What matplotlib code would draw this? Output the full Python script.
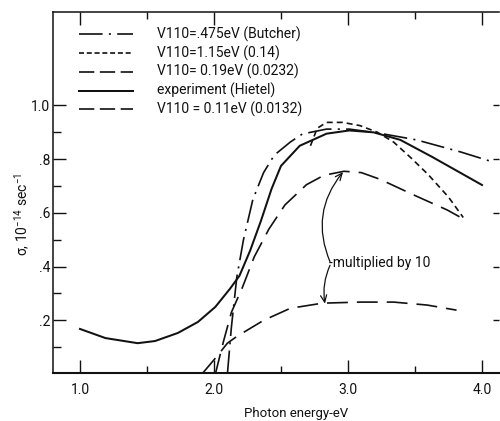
import matplotlib
matplotlib.use('Agg')
import matplotlib.pyplot as plt

plt.rcParams['font.family'] = ['Roboto', 'DejaVu Sans']
plt.rcParams['mathtext.fontset'] = 'custom'
plt.rcParams['mathtext.rm'] = 'Roboto'
plt.rcParams['mathtext.it'] = 'Roboto'
plt.rcParams['lines.scale_dashes'] = False

# ---------------- data ----------------
exp_x = [1.00, 1.19, 1.43, 1.56, 1.73, 1.88, 2.01, 2.12, 2.19, 2.27, 2.35, 2.43,
         2.50, 2.64, 2.84, 3.01, 3.19, 3.39, 3.63, 4.00]
exp_y = [0.168, 0.134, 0.115, 0.123, 0.153, 0.194, 0.250, 0.318, 0.366, 0.46, 0.57,
         0.69, 0.775, 0.850, 0.895, 0.907, 0.900, 0.872, 0.808, 0.704]

butcher_x = [2.10, 2.13, 2.17, 2.22, 2.29, 2.37, 2.45, 2.57, 2.66, 2.84, 3.01, 3.22,
             3.51, 3.84, 4.06]
butcher_y = [0.0, 0.175, 0.36, 0.50, 0.65, 0.75, 0.815, 0.864, 0.894, 0.912, 0.912,
             0.898, 0.872, 0.827, 0.793]

v115_x = [2.72, 2.77, 2.84, 2.96, 3.09, 3.22, 3.34, 3.47, 3.60, 3.75, 3.86]
v115_y = [0.85, 0.915, 0.937, 0.937, 0.925, 0.900, 0.864, 0.805, 0.742, 0.659, 0.583]

v019_x = [2.01, 2.07, 2.13, 2.21, 2.30, 2.41, 2.53, 2.69, 2.82, 2.97, 3.10, 3.24,
          3.49, 3.74, 3.86]
v019_y = [0.0, 0.12, 0.23, 0.32, 0.436, 0.54, 0.63, 0.705, 0.74, 0.755, 0.75, 0.725,
          0.667, 0.611, 0.578]

v011_x = [1.91, 2.02, 2.10, 2.17, 2.37, 2.57, 2.81, 3.09, 3.34, 3.59, 3.81]
v011_y = [0.0, 0.065, 0.115, 0.14, 0.20, 0.245, 0.264, 0.268, 0.268, 0.257, 0.238]

legend_labels = ['V110=.475eV (Butcher)', 'V110=1.15eV (0.14)', 'V110= 0.19eV (0.0232)',
                 'experiment (Hietel)', 'V110 = 0.11eV (0.0132)']

x_ticks = [1.0, 2.0, 3.0, 4.0]
x_tick_labels = ['1.0', '2.0', '3.0', '4.0']
x_minor = [1.5, 2.5, 3.5]
y_ticks = [0.2, 0.4, 0.6, 0.8, 1.0]
y_tick_labels = ['.2', '.4', '.6', '.8', '1.0']
y_minor = [0.1, 0.3, 0.5, 0.7, 0.9]

# ---------------- styles ----------------
INK = '#111111'
sty_butcher = dict(color=INK, lw=1.2, dashes=(17, 4.5, 1.5, 4.5))
sty_115 = dict(color=INK, lw=1.2, dashes=(4.3, 2.9))
sty_dash = dict(color=INK, lw=1.2, dashes=(15, 6.5))
sty_exp = dict(color=INK, lw=1.45)
sty_dash_leg = dict(color=INK, lw=1.2, dashes=(11, 4))

fig = plt.figure(figsize=(5.0, 4.21), dpi=100)
ax = fig.add_axes([53/500, 1-373/421, (499-53)/500, (373-12)/421])
ax.set_xlim(0.7985, 4.127)
ax.set_ylim(0.004, 1.348)

ax.plot(exp_x, exp_y, **sty_exp)
ax.plot(butcher_x, butcher_y, **sty_butcher)
ax.plot(v115_x, v115_y, **sty_115)
ax.plot(v019_x, v019_y, **sty_dash)
ax.plot(v011_x, v011_y, **sty_dash)

# legend (manual, in axes fraction)
leg_styles = [sty_butcher, dict(sty_115, dashes=(3.6, 2.0)), sty_dash_leg, sty_exp, sty_dash_leg]
leg_rows = [0.939, 0.886, 0.835, 0.782, 0.731]
for lab, st, yy in zip(legend_labels, leg_styles, leg_rows):
    ax.plot([0.0584, 0.180], [yy, yy], transform=ax.transAxes, **st)
    ax.text(0.2337, yy, lab, transform=ax.transAxes, ha='left', va='center',
            fontsize=10, color=INK)

# annotation
ax.text(2.862, 0.413, '-multiplied by 10', ha='left', va='center', fontsize=10, color=INK)
ax.annotate('', xy=(2.963, 0.752), xytext=(2.866, 0.418),
            arrowprops=dict(arrowstyle='->,head_length=0.5,head_width=0.22', color=INK,
                            lw=0.9, connectionstyle='arc3,rad=-0.3', shrinkA=0, shrinkB=0))
ax.annotate('', xy=(2.828, 0.262), xytext=(2.866, 0.405),
            arrowprops=dict(arrowstyle='->,head_length=0.5,head_width=0.22', color=INK,
                            lw=0.9, connectionstyle='arc3,rad=0.15', shrinkA=0, shrinkB=0))

# axes styling
for s in ['left', 'top']:
    ax.spines[s].set_linewidth(1.1)
    ax.spines[s].set_color(INK)
ax.spines['bottom'].set_linewidth(1.5)
ax.spines['bottom'].set_color(INK)
ax.spines['right'].set_visible(False)

ax.set_xticks(x_ticks)
ax.set_xticklabels(x_tick_labels)
ax.set_xticks(x_minor, minor=True)
ax.set_yticks(y_ticks)
ax.set_yticklabels(y_tick_labels)
ax.set_yticks(y_minor, minor=True)
ax.tick_params(which='both', direction='in', top=True, right=False, color=INK,
               labelsize=10, labelcolor=INK)
ax.tick_params(axis='x', which='major', length=9.2, width=1.0, pad=7)
ax.tick_params(axis='x', which='minor', length=4.8, width=1.0)
ax.tick_params(axis='y', which='major', length=9.2, width=1.0, pad=2)
ax.tick_params(axis='y', which='minor', length=5.5, width=1.0)

rax = ax.secondary_yaxis('right')
rax.set_yticks(y_ticks)
rax.set_yticklabels([])
rax.tick_params(which='both', direction='in', length=4.3, width=1.0, color=INK)
rax.spines['right'].set_visible(False)

ax.set_xlabel('Photon energy-eV', fontsize=9.5, color=INK)
ax.xaxis.set_label_coords(0.545, -0.095)
ax.text(-0.068, 0.44, r'σ, 10$^{-14}$ sec$^{-1}$', transform=ax.transAxes,
        rotation=90, ha='center', va='center', fontsize=10, color=INK)

fig.savefig('out.png', dpi=100)
